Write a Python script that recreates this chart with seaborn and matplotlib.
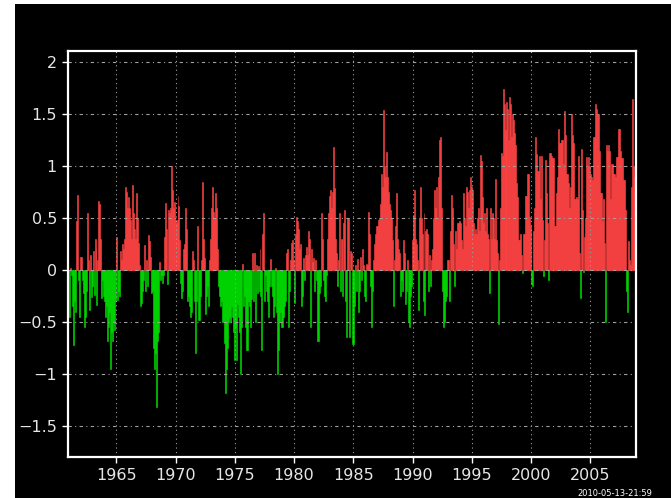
import numpy as np
import pandas as pd
import matplotlib
matplotlib.use("Agg")
import matplotlib.pyplot as plt
from matplotlib.patches import Rectangle
import seaborn as sns

# monthly anomalies, one row per year, starting Jan 1961
start_year = 1961
anom_1960s = [
    [-0.45, 0.02, -0.05, -0.35, -0.72, -0.3, -0.4, 0.47, 0.72, -0.1, -0.45, 0.13],
    [0.13, -0.1, -0.22, -0.55, -0.45, -0.2, 0.55, 0.1, -0.38, 0.15, -0.26, -0.15],
    [0.18, -0.24, 0.3, 0.2, -0.34, 0.1, 0.67, 0.64, 0.3, -0.27, -0.1, -0.25],
    [-0.3, -0.45, -0.35, -0.68, -0.55, -0.4, -0.95, -0.6, -0.68, -0.5, -0.58, -0.3],
    [0.32, -0.29, -0.2, -0.25, 0.18, 0.1, 0.25, 0.2, 0.3, 0.8, 0.75, 0.6],
    [0.7, 0.6, 0.48, 0.3, 0.82, 0.55, 0.4, 0.3, 0.74, 0.5, 0.26, 0.05],
    [-0.35, -0.32, -0.2, -0.1, 0.24, -0.2, 0.1, -0.15, 0.34, 0.28, 0.13, -0.22],
    [-0.2, -0.75, -0.95, -0.8, -1.32, -0.68, -0.6, 0.08, -0.1, -0.05, -0.12, -0.05],
    [0.32, 0.65, 0.4, -0.13, 0.58, 0.55, 0.6, 1.0, 0.77, 0.6, 0.66, 0.48],
]
anom_1970s = [
    [0.45, 0.48, 0.71, 0.62, 0.29, -0.12, -0.27, -0.2, 0.2, 0.25, 0.6, 0.4],
    [-0.3, -0.25, -0.35, -0.45, -0.4, 0.18, 0.1, -0.3, -0.8, -0.3, 0.42, -0.48],
    [-0.48, -0.25, 0.1, 0.85, 0.3, 0.12, -0.42, -0.25, -0.15, -0.35, 0.1, 0.3],
    [0.6, 0.8, 0.56, 0.5, 0.74, 0.6, 0.2, -0.15, -0.25, -0.35, -0.3, -0.5],
    [-0.5, -0.7, -1.18, -0.95, -0.75, -0.5, -0.45, -0.5, -0.35, -0.45, -0.6, -0.87],
    [-0.55, -0.87, -0.33, -0.45, -0.6, -1.0, -0.55, 0.06, -0.35, -0.25, -0.55, -0.77],
    [-0.77, -0.3, -0.35, -0.55, -0.28, 0.16, -0.3, 0.16, -0.5, 0.05, -0.22, 0.04],
    [-0.2, 0.2, -0.25, -0.77, 0.35, 0.55, -0.3, -0.05, -0.2, -0.3, -0.45, -0.15],
    [0.11, -0.15, -0.25, -0.45, -0.35, 0.02, -0.4, -1.0, -0.77, -0.5, -0.4, -0.55],
    [-0.55, -0.45, -0.35, -0.3, 0.16, 0.2, -0.55, -0.2, 0.1, 0.26, 0.29, 0.1],
]
anom_1980s = [
    [-0.32, 0.35, 0.51, 0.47, 0.4, 0.2, 0.25, -0.35, -0.25, 0.12, -0.1, 0.15],
    [0.22, 0.15, 0.38, 0.3, -0.55, 0.2, 0.08, 0.12, -0.2, 0.1, -0.1, -0.68],
    [-0.68, -0.22, -0.15, 0.55, 0.3, -0.1, -0.25, -0.3, -0.05, 0.3, 0.55, 0.71],
    [0.77, 0.6, 0.75, 1.19, 0.79, 0.3, 0.16, -0.15, 0.1, 0.55, -0.2, 0.3],
    [0.3, -0.25, 0.45, 0.58, -0.3, -0.64, 0.5, 0.5, -0.64, 0.18, 0.16, -0.71],
    [-0.71, -0.35, 0.05, -0.2, 0.11, -0.4, -0.2, 0.13, -0.1, 0.2, 0.05, -0.25],
    [-0.3, 0.06, 0.05, 0.56, 0.35, -0.15, -0.55, -0.2, 0.1, 0.25, 0.35, 0.42],
    [0.42, 0.48, 0.5, 0.64, 0.93, 0.8, 1.54, 1.0, 0.9, 1.14, 0.9, 0.75],
    [0.64, 0.58, 0.5, 0.29, -0.35, 0.1, 0.42, 0.74, 0.3, 0.2, 0.16, -0.25],
    [-0.1, -0.2, 0.29, 0.16, -0.33, -0.2, 0.1, -0.5, -0.55, -0.25, -0.15, 0.29],
]
anom_1990s = [
    [0.53, 0.77, 0.3, 0.25, 0.1, -0.38, 0.5, 0.8, 0.5, 0.35, -0.3, 0.55],
    [-0.43, 0.38, 0.4, 0.35, -0.2, 0.15, -0.15, 0.1, 0.2, 0.5, 0.77, 0.6],
    [0.8, 0.5, 0.9, 1.25, 1.28, 0.6, -0.2, -0.55, -0.5, -0.3, -0.25, 0.1],
    [0.1, -0.3, 0.38, 0.72, 0.6, 0.25, -0.15, 0.38, 0.2, 0.45, 0.45, 0.47],
    [0.45, 0.29, 0.2, 0.74, 0.5, 0.42, 0.8, 0.75, 0.6, 0.77, 0.9, 0.8],
    [0.77, 0.45, 0.35, 0.4, 0.35, 0.5, 0.6, 0.38, 1.11, 1.05, 0.7, 0.45],
    [0.55, 0.38, 0.6, 0.35, 0.3, -0.22, 0.6, 0.3, 0.55, 0.5, 0.3, 0.88],
    [0.29, 0.16, -0.52, 0.1, 0.6, 1.13, 1.1, 1.74, 1.6, 1.35, 1.3, 1.62],
    [1.55, 1.25, 1.67, 1.6, 1.28, 1.5, 1.45, 1.32, 1.2, 0.84, 0.7, 0.29],
    [0.29, 0.35, 0.15, -0.03, 0.35, 0.35, 0.71, 0.71, 0.93, 0.93, 0.51, 0.42],
]
anom_2000s = [
    [-0.13, -0.15, 0.38, 0.6, 1.28, 1.12, 0.95, 0.95, 1.1, 0.68, 1.1, 0.48],
    [-0.06, 0.29, 1.06, 0.74, 0.45, -0.1, 1.13, 1.13, 1.1, 1.08, 1.08, 0.42],
    [0.42, 0.74, 0.9, 1.36, 1.22, 1.22, 1.25, 1.25, 1.02, 1.53, 1.3, 0.93],
    [0.93, 0.84, 0.6, 0.8, 1.5, 1.3, 1.22, 0.68, 0.68, 0.7, 0.68, 1.1],
    [0.16, -0.27, 1.17, 0.58, -0.02, 0.32, 0.5, 1.09, 1.0, 1.0, 1.09, 1.0],
    [0.93, 0.9, 0.87, 1.28, 1.28, 1.6, 1.55, 1.5, 1.5, 1.15, 0.74, 0.74],
    [0.47, 0.68, 0.26, -0.5, 1.2, 1.15, 1.2, 1.15, 0.68, 1.02, 1.02, 0.93],
    [0.93, 0.9, 1.09, 1.09, 1.36, 1.36, 1.15, 1.08, 1.08, 0.87, 0.87, 0.58],
    [-0.2, -0.4, 0.28, 0.1, 0.05, 0.8, 1.65, 1.0, 0.9, 0.9],
]
year_ticks = [1965, 1970, 1975, 1980, 1985, 1990, 1995, 2000, 2005]
y_ticks = [-1.5, -1, -0.5, 0, 0.5, 1, 1.5, 2]
y_labels = ["\u22121.5", "\u22121", "\u22120.5", "0", "0.5", "1", "1.5", "2"]
stamp = "2010-05-13-21:59"

rows = anom_1960s + anom_1970s + anom_1980s + anom_1990s + anom_2000s
values = [v for row in rows for v in row]
months = np.arange(len(values))
df = pd.DataFrame({"time": start_year + (months + 0.5) / 12.0, "anom": values})
df["sign"] = np.where(df["anom"] >= 0, "pos", "neg")

fig = plt.figure(figsize=(6.71, 4.98), dpi=100, facecolor="black")
ax = fig.add_axes([68 / 671, 1 - 457 / 498, (636 - 68) / 671, (457 - 51) / 498])
ax.set_facecolor("black")

sns.barplot(data=df, x="time", y="anom", hue="sign",
            palette={"pos": "#ff4444", "neg": "#00dd00"}, saturation=1,
            native_scale=True, dodge=False, width=1.0, errorbar=None,
            linewidth=0, legend=False, ax=ax)
# fill the 1-px monthly bars solidly
for p in ax.patches:
    p.set_edgecolor(p.get_facecolor())
    p.set_linewidth(0.4)

ax.set_xlim(1960.93, 2008.84)
ax.set_ylim(-1.8, 2.11)
ax.set_xticks(year_ticks)
ax.set_xticklabels([str(y) for y in year_ticks])
ax.set_yticks(y_ticks)
ax.set_yticklabels(y_labels)
ax.set_xlabel("")
ax.set_ylabel("")

for y in y_ticks:
    ax.axhline(y, color="#a0a0a0", lw=0.8, ls=(0, (3, 3, 1, 3)), zorder=5)
for x in year_ticks:
    ax.axvline(x, color="#a0a0a0", lw=0.8, ls=(0, (1, 3)), zorder=5)

for s in ax.spines.values():
    s.set_color("white")
    s.set_linewidth(1.6)
    s.set_zorder(6)
ax.tick_params(colors="white", labelcolor="#e6e6e6", labelsize=11.5,
               direction="out", length=4, width=1, pad=4)

# white page edge visible around the screenshot
fig.patches.append(Rectangle((0, 0), 15 / 671, 1, transform=fig.transFigure,
                             facecolor="white", edgecolor="none", zorder=-1))
fig.patches.append(Rectangle((0, 1 - 4 / 498), 1, 4 / 498, transform=fig.transFigure,
                             facecolor="white", edgecolor="none", zorder=-1))

fig.text(652 / 671, 1 - 493 / 498, stamp, ha="right", va="center",
         fontsize=6, color="white")

fig.savefig("out.png", dpi=100, facecolor="black")
